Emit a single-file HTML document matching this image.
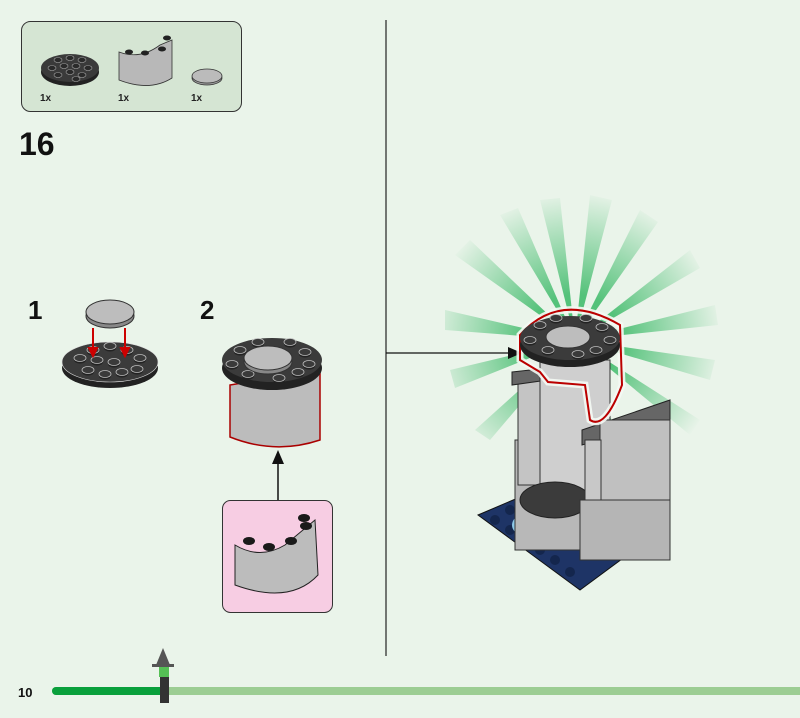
<!DOCTYPE html>
<html><head><meta charset="utf-8"><style>
html,body{margin:0;padding:0;background:#eaf4ea;}
svg{display:block}
text{font-family:"Liberation Sans",sans-serif;}
</style></head><body>
<svg width="800" height="718" viewBox="0 0 800 718" xmlns="http://www.w3.org/2000/svg">
<defs>
<radialGradient id="rg" gradientUnits="userSpaceOnUse" cx="575" cy="340" r="150">
<stop offset="0.3" stop-color="#4cbf74" stop-opacity="0.95"/>
<stop offset="1" stop-color="#4cbf74" stop-opacity="0"/>
</radialGradient>
<g id="stud"><ellipse cx="0" cy="2" rx="6" ry="3.5" fill="#222"/><ellipse cx="0" cy="0" rx="6" ry="3.5" fill="#3a3a3a" stroke="#bbb" stroke-width="0.8"/></g>
</defs>
<rect width="800" height="718" fill="#eaf4ea"/>
<!-- parts panel -->
<rect x="21.5" y="21.5" width="220" height="90" rx="9" fill="#d5e5d3" stroke="#333" stroke-width="1"/>
<ellipse cx="70" cy="72" rx="29" ry="14" fill="#222"/>
<ellipse cx="70" cy="68" rx="29" ry="14" fill="#3a3a3a"/>
<g fill="#2a2a2a" stroke="#aaa" stroke-width="0.6">
<ellipse cx="58" cy="60" rx="4" ry="2.5"/><ellipse cx="70" cy="58" rx="4" ry="2.5"/><ellipse cx="82" cy="60" rx="4" ry="2.5"/>
<ellipse cx="52" cy="68" rx="4" ry="2.5"/><ellipse cx="64" cy="66" rx="4" ry="2.5"/><ellipse cx="76" cy="66" rx="4" ry="2.5"/><ellipse cx="88" cy="68" rx="4" ry="2.5"/>
<ellipse cx="58" cy="75" rx="4" ry="2.5"/><ellipse cx="70" cy="72" rx="4" ry="2.5"/><ellipse cx="82" cy="75" rx="4" ry="2.5"/><ellipse cx="76" cy="79" rx="4" ry="2.5"/>
</g>
<path d="M119,52 Q140,60 160,45 L172,40 L172,78 Q150,92 119,80 Z" fill="#b8b8b8" stroke="#333" stroke-width="0.8"/>
<g fill="#222"><ellipse cx="129" cy="52" rx="4" ry="2.5"/><ellipse cx="145" cy="53" rx="4" ry="2.5"/><ellipse cx="162" cy="49" rx="4" ry="2.5"/><ellipse cx="167" cy="38" rx="4" ry="2.5"/></g>
<ellipse cx="207" cy="78" rx="15" ry="7" fill="#999" stroke="#333" stroke-width="0.8"/>
<ellipse cx="207" cy="76" rx="15" ry="7" fill="#bbb" stroke="#333" stroke-width="0.8"/>
<text x="40" y="101" font-size="10" font-weight="bold" fill="#222">1x</text>
<text x="118" y="101" font-size="10" font-weight="bold" fill="#222">1x</text>
<text x="191" y="101" font-size="10" font-weight="bold" fill="#222">1x</text>
<text x="19" y="155" font-size="32" font-weight="bold" fill="#111">16</text>
<!-- divider -->
<line x1="386" y1="20" x2="386" y2="656" stroke="#222" stroke-width="1.2"/>
<!-- step 1 -->
<text x="28" y="319" font-size="26" font-weight="bold" fill="#111">1</text>
<ellipse cx="110" cy="368" rx="48" ry="20" fill="#222"/>
<ellipse cx="110" cy="362" rx="48" ry="20" fill="#3b3b3b" stroke="#ddd" stroke-width="0.6"/>
<g>
<use href="#stud" x="93" y="350"/><use href="#stud" x="110" y="346"/><use href="#stud" x="127" y="350"/>
<use href="#stud" x="80" y="358"/><use href="#stud" x="97" y="360"/><use href="#stud" x="114" y="362"/><use href="#stud" x="140" y="358"/>
<use href="#stud" x="88" y="370"/><use href="#stud" x="105" y="374"/><use href="#stud" x="122" y="372"/><use href="#stud" x="137" y="369"/>
</g>
<ellipse cx="110" cy="316" rx="24" ry="12" fill="#888" stroke="#333" stroke-width="1"/>
<ellipse cx="110" cy="312" rx="24" ry="12" fill="#bdbdbd" stroke="#333" stroke-width="1"/>
<g stroke="#c00" stroke-width="2" fill="#c00">
<line x1="93" y1="328" x2="93" y2="350"/><polygon points="89,348 97,348 93,356"/>
<line x1="125" y1="328" x2="125" y2="350"/><polygon points="121,348 129,348 125,356"/>
</g>
<!-- step 2 -->
<text x="200" y="319" font-size="26" font-weight="bold" fill="#111">2</text>
<path d="M230,385 L230,437 Q275,455 320,440 L320,370 Z" fill="#bcbcbc" stroke="#a00" stroke-width="1.5"/>
<ellipse cx="272" cy="368" rx="50" ry="22" fill="#222"/>
<ellipse cx="272" cy="360" rx="50" ry="22" fill="#3b3b3b"/>
<g>
<use href="#stud" x="240" y="350"/><use href="#stud" x="258" y="342"/><use href="#stud" x="290" y="342"/><use href="#stud" x="305" y="352"/>
<use href="#stud" x="232" y="364"/><use href="#stud" x="248" y="374"/><use href="#stud" x="279" y="378"/><use href="#stud" x="298" y="372"/><use href="#stud" x="309" y="364"/>
</g>
<ellipse cx="268" cy="362" rx="24" ry="12" fill="#888" stroke="#333"/>
<ellipse cx="268" cy="358" rx="24" ry="12" fill="#bdbdbd" stroke="#333"/>
<line x1="278" y1="500" x2="278" y2="462" stroke="#111" stroke-width="1.5"/>
<polygon points="272,464 284,464 278,450" fill="#111"/>
<rect x="222.5" y="500.5" width="110" height="112" rx="8" fill="#f7cde3" stroke="#333" stroke-width="1"/>
<path d="M235,545 Q260,560 285,545 L315,520 L318,575 Q290,605 235,585 Z" fill="#bcbcbc" stroke="#222" stroke-width="1"/>
<g fill="#1a1a1a"><ellipse cx="249" cy="541" rx="6" ry="4"/><ellipse cx="269" cy="547" rx="6" ry="4"/><ellipse cx="291" cy="541" rx="6" ry="4"/><ellipse cx="306" cy="526" rx="6" ry="4"/><ellipse cx="304" cy="518" rx="6" ry="4"/></g>
<!-- right: sunburst rays -->
<g fill="url(#rg)">
<polygon points="575,340 455,255 470,240"/>
<polygon points="575,340 500,215 518,208"/>
<polygon points="575,340 540,200 560,198"/>
<polygon points="575,340 590,195 612,200"/>
<polygon points="575,340 640,210 658,222"/>
<polygon points="575,340 690,250 700,268"/>
<polygon points="575,340 715,305 718,325"/>
<polygon points="575,340 715,360 710,380"/>
<polygon points="575,340 700,420 690,435"/>
<polygon points="575,340 445,310 445,330"/>
<polygon points="575,340 450,370 455,388"/>
<polygon points="575,340 475,430 490,440"/>
<polygon points="575,340 630,460 612,465"/>
</g>
<line x1="386" y1="353" x2="510" y2="353" stroke="#111" stroke-width="1.3"/>
<polygon points="508,347 522,353 508,359" fill="#111"/>
<!-- model -->
<polygon points="478,515 560,480 668,525 580,590" fill="#1e3466" stroke="#111"/>
<g fill="#14264d"><circle cx="495" cy="520" r="5"/><circle cx="510" cy="530" r="5"/><circle cx="525" cy="540" r="5"/><circle cx="540" cy="550" r="5"/><circle cx="555" cy="560" r="5"/><circle cx="570" cy="572" r="5"/><circle cx="510" cy="510" r="5"/><circle cx="525" cy="503" r="5"/></g>
<ellipse cx="550" cy="525" rx="38" ry="18" fill="#8fc9e8"/>
<rect x="515" y="440" width="80" height="110" fill="#b8b8b8" stroke="#333"/>
<rect x="518" y="375" width="22" height="110" fill="#c4c4c4" stroke="#333"/>
<polygon points="512,372 548,368 548,380 512,385" fill="#666" stroke="#222"/>
<rect x="540" y="360" width="70" height="130" fill="#cfcfcf" stroke="#333"/>
<ellipse cx="555" cy="500" rx="35" ry="18" fill="#3b3b3b" stroke="#222"/>
<polygon points="582,430 670,400 670,420 582,445" fill="#666" stroke="#222"/>
<rect x="600" y="420" width="70" height="120" fill="#c0c0c0" stroke="#333"/>
<rect x="585" y="440" width="16" height="110" fill="#c8c8c8" stroke="#333"/>
<rect x="580" y="500" width="90" height="60" fill="#b5b5b5" stroke="#333"/>
<path d="M520,335 Q560,290 620,325 L622,385 Q605,430 590,420 L585,385 L548,382 L540,372 L520,360 Z" fill="none" stroke="#f4faf4" stroke-width="7" opacity="0.9"/>
<path d="M520,335 Q560,290 620,325 L622,385 Q605,430 590,420 L585,385 L548,382 L540,372 L520,360 Z" fill="none" stroke="#b00" stroke-width="2"/>
<ellipse cx="570" cy="345" rx="50" ry="22" fill="#222"/>
<ellipse cx="570" cy="338" rx="50" ry="22" fill="#3b3b3b"/>
<g>
<use href="#stud" x="540" y="325"/><use href="#stud" x="556" y="318"/><use href="#stud" x="586" y="318"/><use href="#stud" x="602" y="327"/>
<use href="#stud" x="530" y="340"/><use href="#stud" x="548" y="350"/><use href="#stud" x="578" y="354"/><use href="#stud" x="596" y="350"/><use href="#stud" x="610" y="340"/>
</g>
<ellipse cx="568" cy="337" rx="22" ry="11" fill="#bdbdbd" stroke="#333"/>
<!-- footer -->
<text x="18" y="697" font-size="13" font-weight="bold" fill="#111">10</text>
<line x1="56" y1="691" x2="800" y2="691" stroke="#9ccd93" stroke-width="8" stroke-linecap="round"/>
<line x1="56" y1="691" x2="165" y2="691" stroke="#0aa03c" stroke-width="8" stroke-linecap="round"/>
<polygon points="156,665 163,648 170,665" fill="#555"/>
<rect x="152" y="664" width="22" height="3" fill="#555"/>
<rect x="159" y="667" width="10" height="10" fill="#55c055"/>
<rect x="160" y="677" width="9" height="26" fill="#333"/>
</svg>
</body></html>
